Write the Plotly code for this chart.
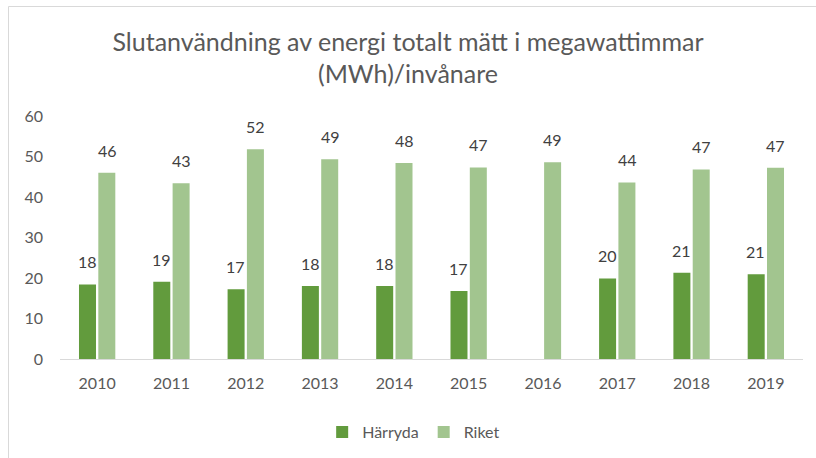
import plotly.graph_objects as go

years = ["2010", "2011", "2012", "2013", "2014", "2015", "2016", "2017", "2018", "2019"]
harryda = [18.4, 19.1, 17.2, 18.0, 18.0, 16.8, None, 19.9, 21.3, 20.9]
riket = [46.0, 43.4, 51.8, 49.3, 48.4, 47.3, 48.6, 43.6, 46.8, 47.2]
series_names = ["Härryda", "Riket"]
colors = ["#629B3D", "#A2C58F"]
title = "Slutanvändning av energi totalt mätt i megawattimmar<br>(MWh)/invånare"

FONT = "Lato"
TXT = "#595959"

fig = go.Figure()
for name, vals, col in zip(series_names, [harryda, riket], colors):
    fig.add_trace(go.Bar(x=years, y=vals, name=name, marker=dict(color=col, line=dict(width=0))))

annotations = []
for vals, shift in [(harryda, -10), (riket, 10)]:
    for i, v in enumerate(vals):
        if v is None:
            continue
        annotations.append(dict(x=i, y=v, xref="x", yref="y", text=f"{v:.0f}", showarrow=False,
                                xshift=shift, yshift=11, yanchor="bottom",
                                font=dict(family=FONT, size=16, color="#404040")))

fig.update_layout(
    width=816, height=458,
    margin=dict(l=60, r=13, t=116, b=99),
    paper_bgcolor="white", plot_bgcolor="white",
    barmode="group", bargap=0.48, bargroupgap=0.12,
    title=dict(text=title, x=0.5, xanchor="center", y=0.889, yanchor="top",
               font=dict(family=FONT, size=25, color=TXT)),
    font=dict(family=FONT, size=16, color=TXT),
    xaxis=dict(type="category", range=[-0.5, len(years) - 0.5], showline=True, automargin=False,
               linecolor="#d9d9d9", linewidth=1, ticks="", tickfont=dict(size=16, color=TXT),
               showgrid=False, ticklabelstandoff=10),
    yaxis=dict(range=[0, 60], dtick=10, showgrid=False, zeroline=False, showline=False,
               automargin=False,
               ticks="", tickfont=dict(size=16, color=TXT), ticklabelstandoff=16),
    legend=dict(orientation="h", x=0.476, xanchor="center", yref="container", y=1 - 432 / 458,
                yanchor="middle",
                font=dict(size=16, color=TXT), traceorder="normal", itemwidth=30),
    annotations=annotations,
    shapes=[
        dict(type="line", xref="paper", yref="paper", x0=(8.5 - 60) / 743, x1=(816 - 60) / 743,
             y0=(359 - 6.5) / 243, y1=(359 - 6.5) / 243, line=dict(color="#d9d9d9", width=1)),
        dict(type="line", xref="paper", yref="paper", x0=(8.5 - 60) / 743, x1=(8.5 - 60) / 743,
             y0=(359 - 6.5) / 243, y1=(359 - 470) / 243, line=dict(color="#d9d9d9", width=1)),
    ],
)

fig.write_html("out.html", config={"displayModeBar": False},
               post_script="document.body.style.margin='0';")
